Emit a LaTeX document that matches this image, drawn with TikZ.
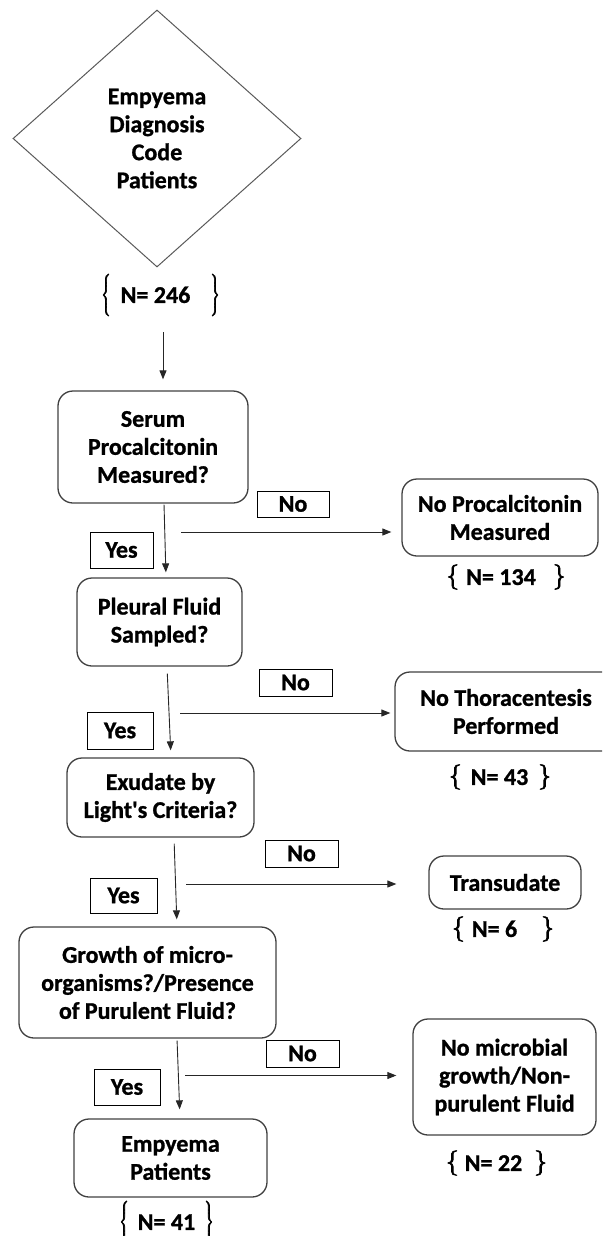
\documentclass[tikz,border=0pt]{standalone}
\usepackage{fontspec}
\setmainfont{Carlito}[BoldFeatures={FakeBold=1}]
\newfontfamily\apf{Carlito}[Ligatures=TeXOff,BoldFeatures={FakeBold=1}]
\usetikzlibrary{shapes.geometric,arrows.meta}
\newcommand{\thk}[1]{\special{pdf:literal direct 2 Tr 0.7 w}#1\special{pdf:literal direct 0 Tr}}
\newcommand{\brl}[1]{\raisebox{1.7pt}{\thk{$\left\{\vcenter{\hbox{\vrule height #1 width 0pt}}\right.$}}}
\newcommand{\brr}[1]{\raisebox{1.7pt}{\thk{$\left.\vcenter{\hbox{\vrule height #1 width 0pt}}\right\}$}}}
% brace height, left gap, text, right gap
\newcommand{\nlab}[4]{\brl{#1}\hspace{#2}#3\hspace{#4}\brr{#1}}
\begin{document}
\begin{tikzpicture}[x=1pt,y=-1pt,
  txt/.style={font=\fontsize{24pt}{28pt}\selectfont\bfseries, align=center, inner sep=0pt},
  box/.style={txt, draw=black!75, line width=1.3pt, rounded corners=15pt},
  tag/.style={txt, draw=black, line width=1pt},
  arr/.style={draw=black!85, line width=0.9pt, -{Triangle[length=9pt,width=7pt]}}]
\clip (0,0) rectangle (602,1236);

% start diamond
\node[txt, diamond, draw=black!65, line width=1pt, minimum width=288pt, minimum height=257pt] (dia) at (157,138.5) {Empyema\\Diagnosis\\Code\\Patients};
\node[txt] (n246) at (160.5,295) {\nlab{42pt}{9pt}{N= 246}{19pt}};

% main column
\node[box, minimum width=190pt, minimum height=112pt] (serum) at (153,447) {Serum\\Procalcitonin\\Measured?};
\node[box, minimum width=165pt, minimum height=88pt] (pleural) at (159.5,622) {Pleural Fluid\\Sampled?};
\node[box, minimum width=187pt, minimum height=79pt] (exud) at (160.5,797.5) {Exudate by\\Light{\apf'}s Criteria?};
\node[box, minimum width=257pt, minimum height=111pt] (growth) at (147.5,982.5) {Growth of micro-\\organisms?/Presence\\of Purulent Fluid?};
\node[box, minimum width=193pt, minimum height=78pt] (empat) at (170.5,1158) {Empyema\\Patients};
\node[txt] (n41) at (166.5,1222) {\nlab{42pt}{8pt}{N= 41}{8pt}};

% right column
\node[box, minimum width=196pt, minimum height=77pt] (nopct) at (500,517.5) {No Procalcitonin\\Measured};
\node[txt] (n134) at (506,577) {\nlab{20pt}{6pt}{N= 134}{16pt}};

\node[box, minimum width=222pt, minimum height=79pt] (nothor) at (506,711.5) {No Thoracentesis\\Performed};
\node[txt] (n43) at (500,777) {\nlab{23pt}{8pt}{N= 43}{9pt}};

\node[box, minimum width=152pt, minimum height=53pt] (trans) at (505,882.5) {Transudate};
\node[txt] (n6) at (503,929) {\nlab{22pt}{6pt}{N= 6}{23pt}};

\node[box, minimum width=183pt, minimum height=116pt] (nomic) at (504.5,1077) {No microbial\\growth/Non-\\purulent Fluid};
\node[txt] (n22) at (496.5,1163) {\nlab{19pt}{5pt}{N= 22}{11pt}};

% yes / no tags
\node[tag, minimum width=72pt, minimum height=26pt] (no1) at (293,504) {No};
\node[tag, minimum width=63pt, minimum height=36pt] (yes1) at (121.5,550) {Yes};
\node[tag, minimum width=73pt, minimum height=27pt] (no2) at (295.5,682.5) {No};
\node[tag, minimum width=66pt, minimum height=37pt] (yes2) at (120,730.5) {Yes};
\node[tag, minimum width=73pt, minimum height=27pt] (no3) at (301.5,853.5) {No};
\node[tag, minimum width=67pt, minimum height=35pt] (yes3) at (123.5,895.5) {Yes};
\node[tag, minimum width=73pt, minimum height=27pt] (no4) at (302.5,1053.5) {No};
\node[tag, minimum width=66pt, minimum height=36pt] (yes4) at (127,1087) {Yes};

% vertical arrows
\coordinate (a0) at (163,332);
\draw[arr, shorten >=11pt] (a0) -- (a0 |- serum.north);
\draw[arr, shorten <=1pt, shorten >=5pt] ([xshift=11pt]serum.south) -- ([xshift=6.5pt]pleural.north);
\draw[arr, shorten <=7pt, shorten >=7pt] ([xshift=7.5pt]pleural.south) -- ([xshift=10.5pt]exud.north);
\draw[arr, shorten <=6pt, shorten >=7pt] ([xshift=13.5pt]exud.south) -- ([xshift=29.5pt]growth.north);
\draw[arr, shorten <=2pt, shorten >=9pt] ([xshift=29.5pt]growth.south) -- ([xshift=9.5pt]empat.north);

% horizontal arrows
\coordinate (h1) at (181,532);
\draw[arr, shorten >=10pt] (h1) -- (h1 -| nopct.west);
\coordinate (h2) at (180,713);
\draw[arr, shorten >=4pt] (h2) -- (h2 -| nothor.west);
\coordinate (h3) at (186,884);
\draw[arr, shorten >=32pt] (h3) -- (h3 -| trans.west);
\coordinate (h4) at (185,1075.5);
\draw[arr, shorten >=16pt] (h4) -- (h4 -| nomic.west);
\end{tikzpicture}
\end{document}
